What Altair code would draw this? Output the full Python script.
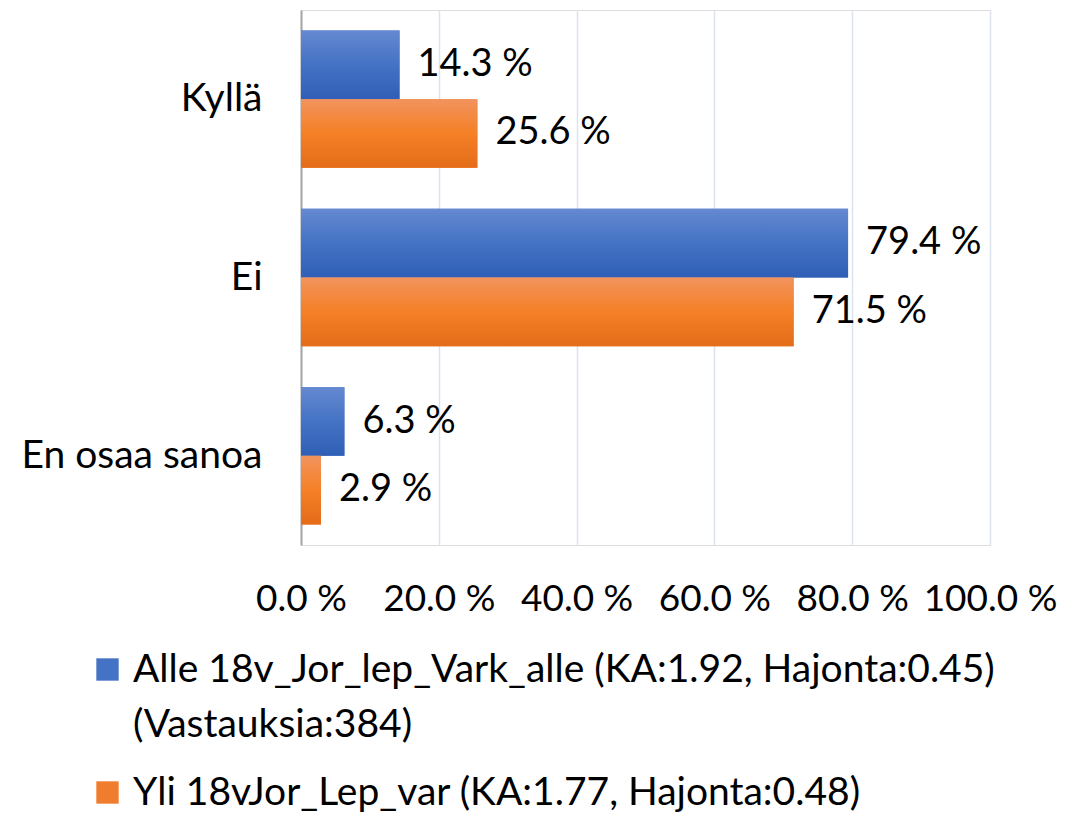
import altair as alt
import pandas as pd

categories = ["Kyllä", "Ei", "En osaa sanoa"]
series_keys = ["Alle 18v_Jor_lep_Vark_alle", "Yli 18vJor_Lep_var"]
legend_lines = [
    ["Alle 18v_Jor_lep_Vark_alle (KA:1.92, Hajonta:0.45)", "(Vastauksia:384)"],
    ["Yli 18vJor_Lep_var (KA:1.77, Hajonta:0.48)", "(Vastauksia:419)"],
]
values_alle = [14.3, 79.4, 6.3]
values_yli = [25.6, 71.5, 2.9]
tick_values = [0, 20, 40, 60, 80, 100]

flat_colors = ["#4472C4", "#F07D2E"]
grad_stops = [
    ["#6589D1", "#4472C4", "#2F5FB6"],
    ["#F2935E", "#F58026", "#E46C19"],
]

rows = []
for key, vals in zip(series_keys, [values_alle, values_yli]):
    for cat, v in zip(categories, vals):
        rows.append({"category": cat, "series": key, "value": v})
df = pd.DataFrame(rows)

FONT = "Lato"
FS = 37
FS_CAT = 39
FS_LEG = 39


def js_arr(lines):
    return "[" + ", ".join("'" + l + "'" for l in lines) + "]"


label_expr = (
    f"datum.label == '{series_keys[0]}' ? {js_arr(legend_lines[0])} : {js_arr(legend_lines[1])}"
)


def gradient(stops):
    return {
        "gradient": "linear",
        "x1": 0, "y1": 0, "x2": 0, "y2": 1,
        "stops": [
            {"offset": 0, "color": stops[0]},
            {"offset": 0.5, "color": stops[1]},
            {"offset": 1, "color": stops[2]},
        ],
    }


base = alt.Chart(df).encode(
    y=alt.Y(
        "category:N",
        sort=categories,
        scale=alt.Scale(paddingInner=0.23, paddingOuter=0.115),
        axis=alt.Axis(
            title=None, ticks=False, domain=True, domainColor="#A6A6A6",
            domainWidth=2, labelPadding=39, labelFont=FONT, labelFontSize=FS_CAT,
            labelColor="#000000", grid=False, labelLimit=400,
        ),
    ),
    yOffset=alt.YOffset(
        "series:N", sort=series_keys,
        scale=alt.Scale(paddingInner=0, paddingOuter=0),
    ),
    x=alt.X(
        "value:Q",
        scale=alt.Scale(domain=[0, 100], nice=False),
        axis=alt.Axis(
            title=None, values=tick_values, ticks=False, domain=False,
            grid=True, gridColor="#DDE3EE", gridWidth=1.5,
            labelExpr="format(datum.value, '.1f') + ' %'",
            labelFont=FONT, labelFontSize=FS, labelColor="#000000",
            labelPadding=36, labelFlush=False, labelOverlap=False,
        ),
    ),
)

bars = base.mark_bar().encode(
    color=alt.Color(
        "series:N",
        sort=series_keys,
        scale=alt.Scale(domain=series_keys, range=flat_colors),
        legend=alt.Legend(
            title=None, orient="none", legendX=-213, legendY=640,
            direction="vertical", symbolType="square", symbolSize=500,
            symbolStrokeWidth=0, labelFont=FONT, labelFontSize=FS_LEG,
            labelColor="#000000", labelLimit=2000, labelOffset=6,
            rowPadding=28, labelExpr=label_expr,
        ),
    )
)

grad_layers = [
    base.transform_filter(alt.datum.series == key).mark_bar(color=gradient(st))
    for key, st in zip(series_keys, grad_stops)
]

labels = base.transform_calculate(
    label="format(datum.value, '.1f') + ' %'"
).mark_text(
    align="left", baseline="middle", dx=18, font=FONT, fontSize=38, color="#000000"
).encode(text="label:N")

chart = alt.layer(bars, *grad_layers, labels).properties(
    width=689, height=535,
    autosize=alt.AutoSizeParams(type="none"),
    padding={"left": 293, "top": 2, "right": 86, "bottom": 283},
    background="#FFFFFF",
).configure_view(stroke=None).configure(
    style={"guide-label": {"lineHeight": 55}}
)

chart.save("out.html", embed_options={"renderer": "svg", "actions": False})
